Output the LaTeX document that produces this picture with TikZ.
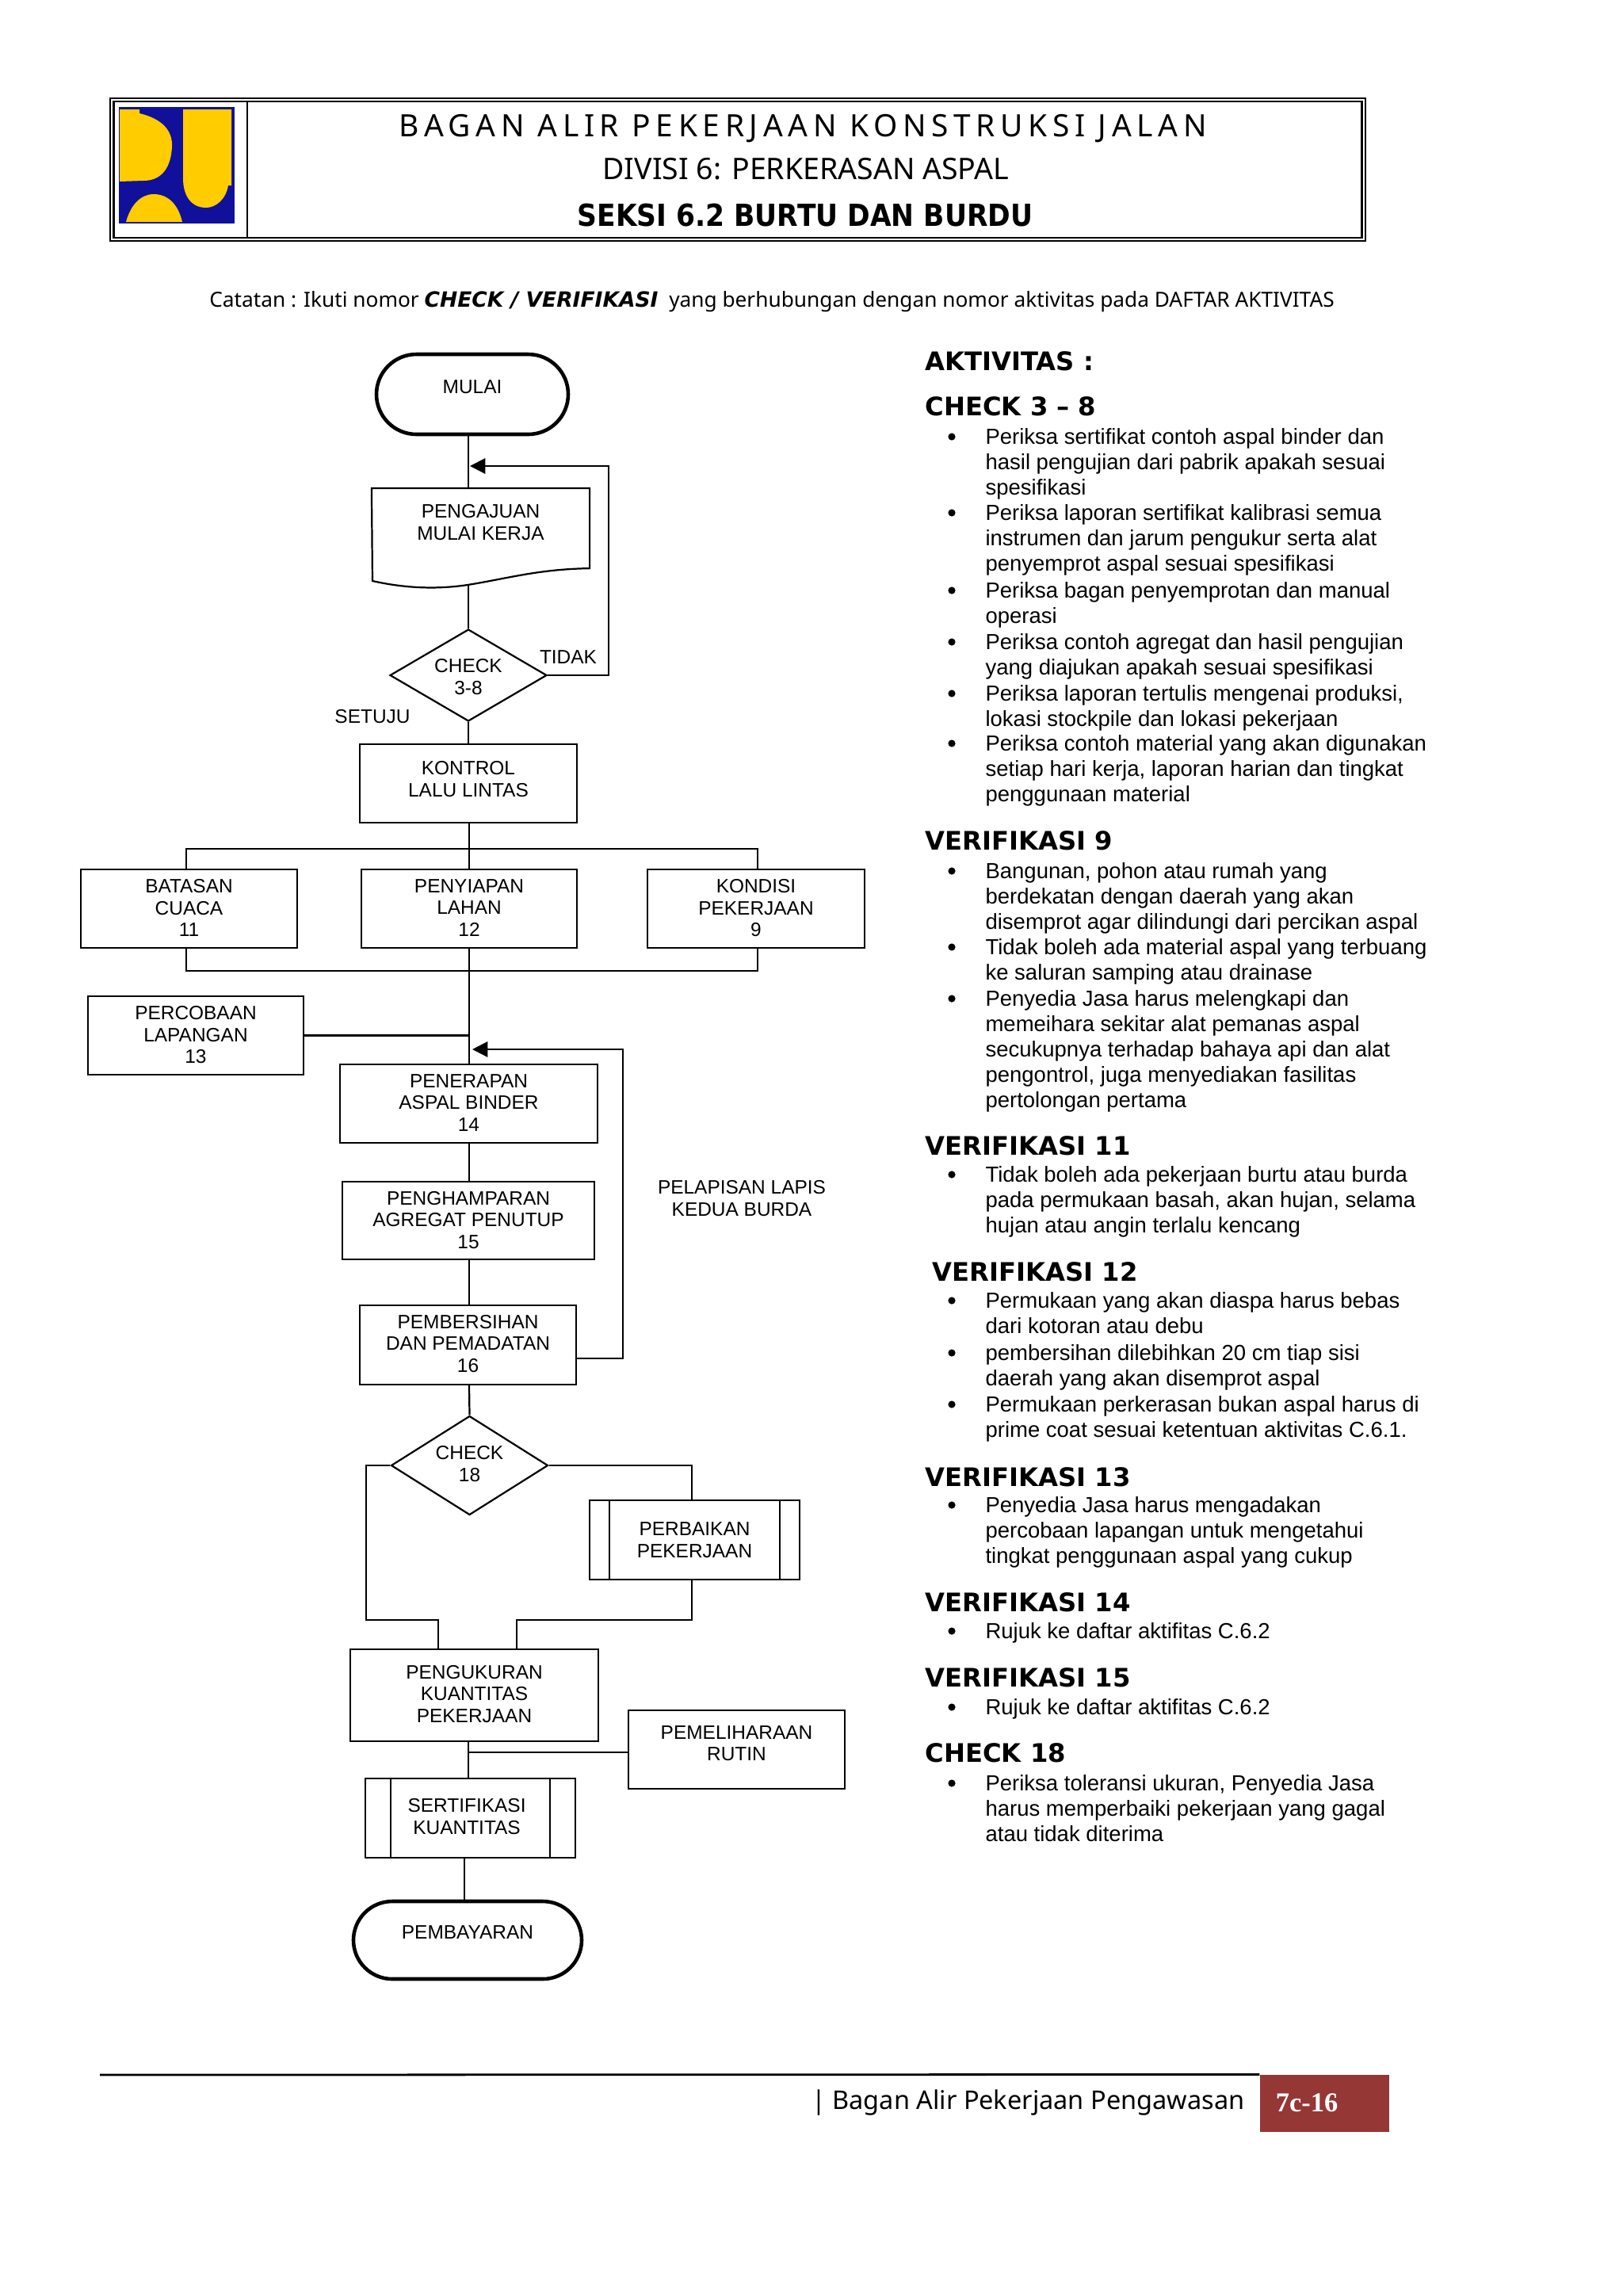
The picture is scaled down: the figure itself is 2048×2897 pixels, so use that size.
\documentclass[tikz,border=0pt]{standalone}
\usepackage{fontspec}
\setmainfont{Liberation Sans}
\newfontfamily\headfont{Noto Sans}
\newfontfamily\spacedfont[LetterSpace=17]{Noto Sans}
\newfontfamily\boldfont{DejaVu Sans}
\newfontfamily\titlebold[FakeStretch=0.9]{DejaVu Sans}
\newfontfamily\pagefont{Liberation Serif}
\usetikzlibrary{arrows.meta,shapes.geometric,shapes.misc}
\definecolor{logoblue}{HTML}{10109A}
\definecolor{logoyellow}{HTML}{FFCC00}
\definecolor{pagered}{HTML}{953735}
\tikzset{
  flow/.style={font=\fontsize{8.8}{9.9}\selectfont,align=center,inner sep=0pt,line width=0.8pt,text depth=0.7pt},
  line/.style={line width=0.8pt},
  back/.style={line width=0.8pt,-{Triangle[length=7pt,width=7pt]}},
  fbox/.style={flow,draw,rectangle},
  term/.style={flow,draw,rounded rectangle,line width=1.65pt,text depth=6.5pt},
  sub/.style={path picture={
     \draw[line] ([xshift=#1]path picture bounding box.north west) -- ([xshift=#1]path picture bounding box.south west);
     \draw[line] ([xshift=-#1]path picture bounding box.north east) -- ([xshift=-#1]path picture bounding box.south east);}},
  dec/.style={flow,draw,diamond,aspect=1.7},
  title/.style={font=\headfont\fontsize{13.5}{16}\selectfont,inner sep=0pt},
  head/.style={font=\boldfont\bfseries\fontsize{11.6}{14}\selectfont,anchor=west,inner sep=0pt},
  item/.style={font=\fontsize{9.9}{11.55}\selectfont,align=left,anchor=north west,inner sep=0pt,yshift=3.6pt},
  dot/.style={circle,fill,inner sep=0pt,minimum size=3.3pt},
}
% box from its corners
\newcommand{\Bx}[7][]{\node[#2,#1,minimum width={(#5-#3)*0.36pt},minimum height={(#6-#4)*0.36pt}] (#7) at ({(#3+#5)/2},{(#4+#6)/2})}
\newcommand{\Item}[3]{\node[dot] (#1dot) at (1201,{#2+1}) {}; \node[item] (#1) at (1243,#2) {#3};}
\begin{document}
\begin{tikzpicture}[x=0.36pt,y=-0.36pt]
   \useasboundingbox (0,0) rectangle (2048,2897);
   % header
   \node[draw,line width=0.9pt,rectangle,inner sep=0pt,minimum width={1584*0.36pt},minimum height={180*0.36pt}] (frameout) at (931,214) {};
   \node[draw,line width=0.9pt,rectangle,inner sep=0pt,minimum width={1575*0.36pt},minimum height={172*0.36pt}] (framein) at (931,214) {};
   \coordinate (divtop) at (312,128);
   \draw[line] (divtop) -- (divtop |- framein.south);
   \fill[logoblue] (150,135) rectangle (296,282);
   \fill[logoyellow] (151,138) -- (176,138) -- (176,143) .. controls (205,150) and (218,165) .. (217,185) .. controls (216,210) and (205,228) .. (181,228) -- (151,229) -- cycle;
   \fill[logoyellow] (231,138) -- (292,138) -- (292,234) -- (288,234) .. controls (285,252) and (272,262) .. (260,262) .. controls (242,262) and (231,248) .. (231,225) -- cycle;
   \fill[logoyellow] (159,280) .. controls (165,258) and (178,245) .. (194,245) .. controls (212,245) and (225,258) .. (230,280) -- cycle;
   \node[title,font=\headfont\fontsize{14}{16}\selectfont] (titlea) at (1013,162) {\spacedfont BAGAN ALIR PEKERJAAN KONSTRUKSI JALAN};
   \node[title] (titleb) at (1017,213) {DIVISI 6: PERKERASAN ASPAL};
   \node[title,font=\titlebold\bfseries\fontsize{13.8}{16}\selectfont] (titlec) at (1016,272) {SEKSI 6.2 BURTU DAN BURDU};
   \node[font=\headfont\fontsize{9.45}{12}\selectfont,inner sep=0pt] (note) at (974,381) {Catatan : Ikuti nomor {\boldfont\bfseries\itshape\fontsize{9.55}{12}\selectfont CHECK / VERIFIKASI}\ \ yang berhubungan dengan nomor aktivitas pada DAFTAR AKTIVITAS};
   % flow
   \Bx{term}{475}{447}{717}{548}{mulai} {MULAI};
   \Bx[text depth=5.4pt]{flow}{470}{617}{743}{716}{doc} {PENGAJUAN\\MULAI KERJA};
   \draw[line] (doc.north west) -- (doc.north east) -- (doc.south east) .. controls (680,718) and (640,730) .. (590,738) .. controls (550,744) and (510,742) .. (470,733) -- cycle;
   \node[dec,text height=17.6pt,text depth=0pt,minimum width={198*0.36pt},minimum height={116*0.36pt}] (chka) at (591,852) {CHECK\\3-8};
   \node[flow] (tidak) at (717,830) {TIDAK};
   \node[flow] (setuju) at (470,905) {SETUJU};
   \Bx[text depth=4pt]{fbox}{454}{939}{728}{1038}{kontrol} {KONTROL\\LALU LINTAS};
   \Bx{fbox}{102}{1097}{375}{1196}{batasan} {BATASAN\\CUACA\\11};
   \Bx{fbox}{456}{1097}{728}{1196}{penyiapan} {PENYIAPAN\\LAHAN\\12};
   \Bx{fbox}{817}{1097}{1091}{1196}{kondisi} {KONDISI\\PEKERJAAN\\9};
   \Bx{fbox}{111}{1257}{383}{1356}{percobaan} {PERCOBAAN\\LAPANGAN\\13};
   \Bx{fbox}{429}{1343}{754}{1442}{penerapan} {PENERAPAN\\ASPAL BINDER\\14};
   \Bx{fbox}{432}{1491}{750}{1589}{penghamparan} {PENGHAMPARAN\\AGREGAT PENUTUP\\15};
   \node[flow] (pelapisan) at (936,1513) {PELAPISAN LAPIS\\KEDUA BURDA};
   \Bx[text depth=1.44pt]{fbox}{454}{1647}{727}{1747}{pembersihan} {PEMBERSIHAN\\DAN PEMADATAN\\16};
   \node[dec,text depth=1.44pt,minimum width={198*0.36pt},minimum height={125*0.36pt}] (chkb) at (592.5,1849) {CHECK\\18};
   \Bx[sub=9pt,text depth=0pt]{fbox}{744}{1893}{1009}{1993}{perbaikan} {PERBAIKAN\\PEKERJAAN};
   \Bx[text depth=1.44pt]{fbox}{442}{2081}{755}{2197}{pengukuran} {PENGUKURAN\\KUANTITAS\\PEKERJAAN};
   \Bx[text depth=5.8pt]{fbox}{793}{2158}{1066}{2257}{pemeliharaan} {PEMELIHARAAN\\RUTIN};
   \Bx[sub=11.6pt,text depth=1.44pt]{fbox}{461}{2244}{726}{2344}{sertifikasi} {SERTIFIKASI\hspace*{3.2pt}\\KUANTITAS\hspace*{3.2pt}};
   \Bx[text depth=7.2pt]{term}{446}{2399}{734}{2497}{pembayaran} {PEMBAYARAN};
   % connectors
   \coordinate (backa) at (593,588);
   \coordinate (loopa) at (768,588);
   \coordinate (backb) at (596,1324);
   \coordinate (loopb) at (786,1324);
   \coordinate (startb) at (727,1714);
   \coordinate (busa) at (592,1071);
   \coordinate (busb) at (592,1225);
   \coordinate (joina) at (462,2044);
   \coordinate (joinb) at (873,2044);
   \coordinate (maint) at (591,2211);
   \draw[line] (mulai.south -| chka.north) -- (doc.north -| chka.north);
   \draw[line] (chka.north) -- (chka.north |- 0,738);
   \draw[back] (chka.east) -| (loopa) -- (backa);
   \draw[line] (chka.south) -- (kontrol.north -| chka.south);
   \draw[line] (kontrol.south -| busa) -- (penyiapan.north -| busa);
   \draw[line] (batasan.north -| 235,0) |- (busa) -| (kondisi.north -| 956,0);
   \draw[line] (batasan.south -| 235,0) |- (busb) -| (kondisi.south -| 956,0);
   \draw[line] (penyiapan.south -| busa) -- (penerapan.north -| busa);
   \draw[line] (percobaan.east) -- (percobaan.east -| busa);
   \draw[back] (startb) -| (loopb) -- (backb);
   \draw[line] (penerapan.south -| busa) -- (penghamparan.north -| busa);
   \draw[line] (penghamparan.south -| busa) -- (pembersihan.north -| busa);
   \draw[line] (pembersihan.south -| busa) -- (chkb.north);
   \draw[line] (chkb.east) -| (perbaikan.north -| joinb);
   \draw[line] (chkb.west) -| (joina) -| (pengukuran.north -| 553,0);
   \draw[line] (perbaikan.south -| joinb) |- (652,2044) -- (pengukuran.north -| 652,0);
   \draw[line] (pengukuran.south -| maint) -- (sertifikasi.north -| maint);
   \draw[line] (maint) -- (maint -| pemeliharaan.west);
   \draw[line] (sertifikasi.south -| 586,0) -- (pembayaran.north -| 586,0);
   % activity list
   \node[head] (haktivitas) at (1167,456) {AKTIVITAS :};
   \node[head] (hcheckc) at (1167,513) {CHECK 3 – 8};
   \Item{ca}{550}{Periksa sertifikat contoh aspal binder dan\\hasil pengujian dari pabrik apakah sesuai\\spesifikasi}
   \Item{cb}{646}{Periksa laporan sertifikat kalibrasi semua\\instrumen dan jarum pengukur serta alat\\penyemprot aspal sesuai spesifikasi}
   \Item{cc}{744}{Periksa bagan penyemprotan dan manual\\operasi}
   \Item{cd}{809}{Periksa contoh agregat dan hasil pengujian\\yang diajukan apakah sesuai spesifikasi}
   \Item{ce}{874}{Periksa laporan tertulis mengenai produksi,\\lokasi stockpile dan lokasi pekerjaan}
   \Item{cf}{937}{Periksa contoh material yang akan digunakan\\setiap hari kerja, laporan harian dan tingkat\\penggunaan material}
   \node[head] (hnine) at (1167,1061) {VERIFIKASI 9};
   \Item{na}{1098}{Bangunan, pohon atau rumah yang\\berdekatan dengan daerah yang akan\\disemprot agar dilindungi dari percikan aspal}
   \Item{nb}{1194}{Tidak boleh ada material aspal yang terbuang\\ke saluran samping atau drainase}
   \Item{nc}{1259}{Penyedia Jasa harus melengkapi dan\\memeihara sekitar alat pemanas aspal\\secukupnya terhadap bahaya api dan alat\\pengontrol, juga menyediakan fasilitas\\pertolongan pertama}
   \node[head] (heleven) at (1167,1446) {VERIFIKASI 11};
   \Item{ea}{1481}{Tidak boleh ada pekerjaan burtu atau burda\\pada permukaan basah, akan hujan, selama\\hujan atau angin terlalu kencang}
   \node[head] (htwelve) at (1176,1605) {VERIFIKASI 12};
   \Item{ta}{1640}{Permukaan yang akan diaspa harus bebas\\dari kotoran atau debu}
   \Item{tb}{1706}{pembersihan dilebihkan 20 cm tiap sisi\\daerah yang akan disemprot aspal}
   \Item{tc}{1771}{Permukaan perkerasan bukan aspal harus di\\prime coat sesuai ketentuan aktivitas C.6.1.}
   \node[head] (hthirteen) at (1167,1864) {VERIFIKASI 13};
   \Item{ha}{1898}{Penyedia Jasa harus mengadakan\\percobaan lapangan untuk mengetahui\\tingkat penggunaan aspal yang cukup}
   \node[head] (hfourteen) at (1167,2022) {VERIFIKASI 14};
   \Item{fa}{2057}{Rujuk ke daftar aktifitas C.6.2}
   \node[head] (hfifteen) at (1167,2117) {VERIFIKASI 15};
   \Item{ga}{2153}{Rujuk ke daftar aktifitas C.6.2}
   \node[head] (heighteen) at (1167,2212) {CHECK 18};
   \Item{ka}{2249}{Periksa toleransi ukuran, Penyedia Jasa\\harus memperbaiki pekerjaan yang gagal\\atau tidak diterima}
   % footer
   \node[fill=pagered,inner sep=0pt,minimum width={163*0.36pt},minimum height={72*0.36pt}] (pageno) at (1671.5,2654) {};
   \node[font=\pagefont\bfseries\fontsize{12.4}{14}\selectfont,text=white,inner sep=0pt] (pagetext) at (1649,2653) {7c-16};
   \coordinate (rulestart) at (126,2618);
   \draw[line width=1pt] (rulestart) -- (pageno.north west);
   \node[font=\headfont\fontsize{11.7}{14}\selectfont,anchor=east,inner sep=0pt] (footer) at (1571,2653) {| Bagan Alir Pekerjaan Pengawasan};
\end{tikzpicture}
\end{document}
